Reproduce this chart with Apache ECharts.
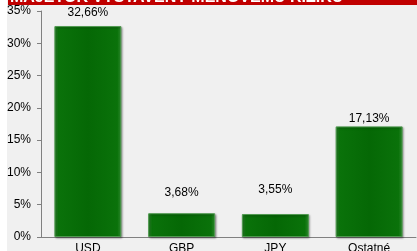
<!DOCTYPE html>
<html>
<head>
<meta charset="utf-8">
<script src="https://cdn.jsdelivr.net/npm/echarts@6/dist/echarts.min.js"></script>
<style>
html, body { margin: 0; padding: 0; background: #fff; }
#chart { width: 417px; height: 251px; }
</style>
</head>
<body>
<div id="chart"></div>
<script>
// data
var categories = ['USD', 'GBP', 'JPY', 'Ostatné'];
var values = [32.66, 3.68, 3.55, 17.13];
var titleText = 'MAJETOK VYSTAVENÝ MENOVÉMU RIZIKU';

var myChart = echarts.init(document.getElementById('chart'));

// vzdialenosť popisov od stĺpcov (ako v originále)
var labelGap = [7, 15, 18, 2];

var barColor = new echarts.graphic.LinearGradient(0, 0, 1, 0, [
    { offset: 0, color: '#2f8a2f' },
    { offset: 0.06, color: '#0a720a' },
    { offset: 0.5, color: '#056805' },
    { offset: 0.94, color: '#0a720a' },
    { offset: 1, color: '#2f8a2f' }
]);

var seriesData = values.map(function (v, i) {
    return { value: v, label: { distance: labelGap[i] } };
});

var option = {
    backgroundColor: '#f0f0f0',
    animation: false,
    graphic: [
        { type: 'rect', z: 10, left: 0, top: 0, shape: { width: 7, height: 251 }, style: { fill: '#ffffff' } },
        { type: 'rect', z: 10, left: 8, top: 0, shape: { width: 409, height: 5 }, style: { fill: '#c00000' } },
        {
            type: 'text', z: 11, x: 10, y: 6,
            style: {
                text: titleText,
                fill: '#ffffff',
                font: 'bold 16px Arial, "Liberation Sans", sans-serif',
                verticalAlign: 'bottom'
            }
        }
    ],
    grid: { left: 41, right: 1, top: 11, bottom: 14, outerBoundsMode: 'none' },
    xAxis: {
        type: 'category',
        data: categories,
        axisLine: { lineStyle: { color: '#808080' } },
        axisTick: { length: 4, lineStyle: { color: '#808080' } },
        axisLabel: {
            color: '#000',
            fontSize: 12,
            fontFamily: 'Arial, "Liberation Sans", sans-serif',
            margin: 6
        }
    },
    yAxis: {
        type: 'value',
        min: 0,
        max: 35,
        interval: 5,
        splitLine: { show: false },
        axisLine: { show: true, lineStyle: { color: '#808080' } },
        axisTick: { show: true, length: 4, lineStyle: { color: '#808080' } },
        axisLabel: {
            color: '#000',
            fontSize: 12,
            fontFamily: 'Arial, "Liberation Sans", sans-serif',
            margin: 10,
            formatter: '{value}%'
        }
    },
    series: [{
        type: 'bar',
        data: seriesData,
        barWidth: 67,
        itemStyle: {
            color: barColor,
            borderColor: '#4f9a4f',
            borderWidth: 1,
            shadowColor: 'rgba(0,0,0,0.35)',
            shadowBlur: 2,
            shadowOffsetX: 1,
            shadowOffsetY: 1
        },
        label: {
            show: true,
            position: 'top',
            color: '#000',
            fontSize: 12,
            fontFamily: 'Arial, "Liberation Sans", sans-serif',
            formatter: function (p) {
                return p.value.toFixed(2).replace('.', ',') + '%';
            }
        }
    }]
};
myChart.setOption(option);
</script>
</body>
</html>
